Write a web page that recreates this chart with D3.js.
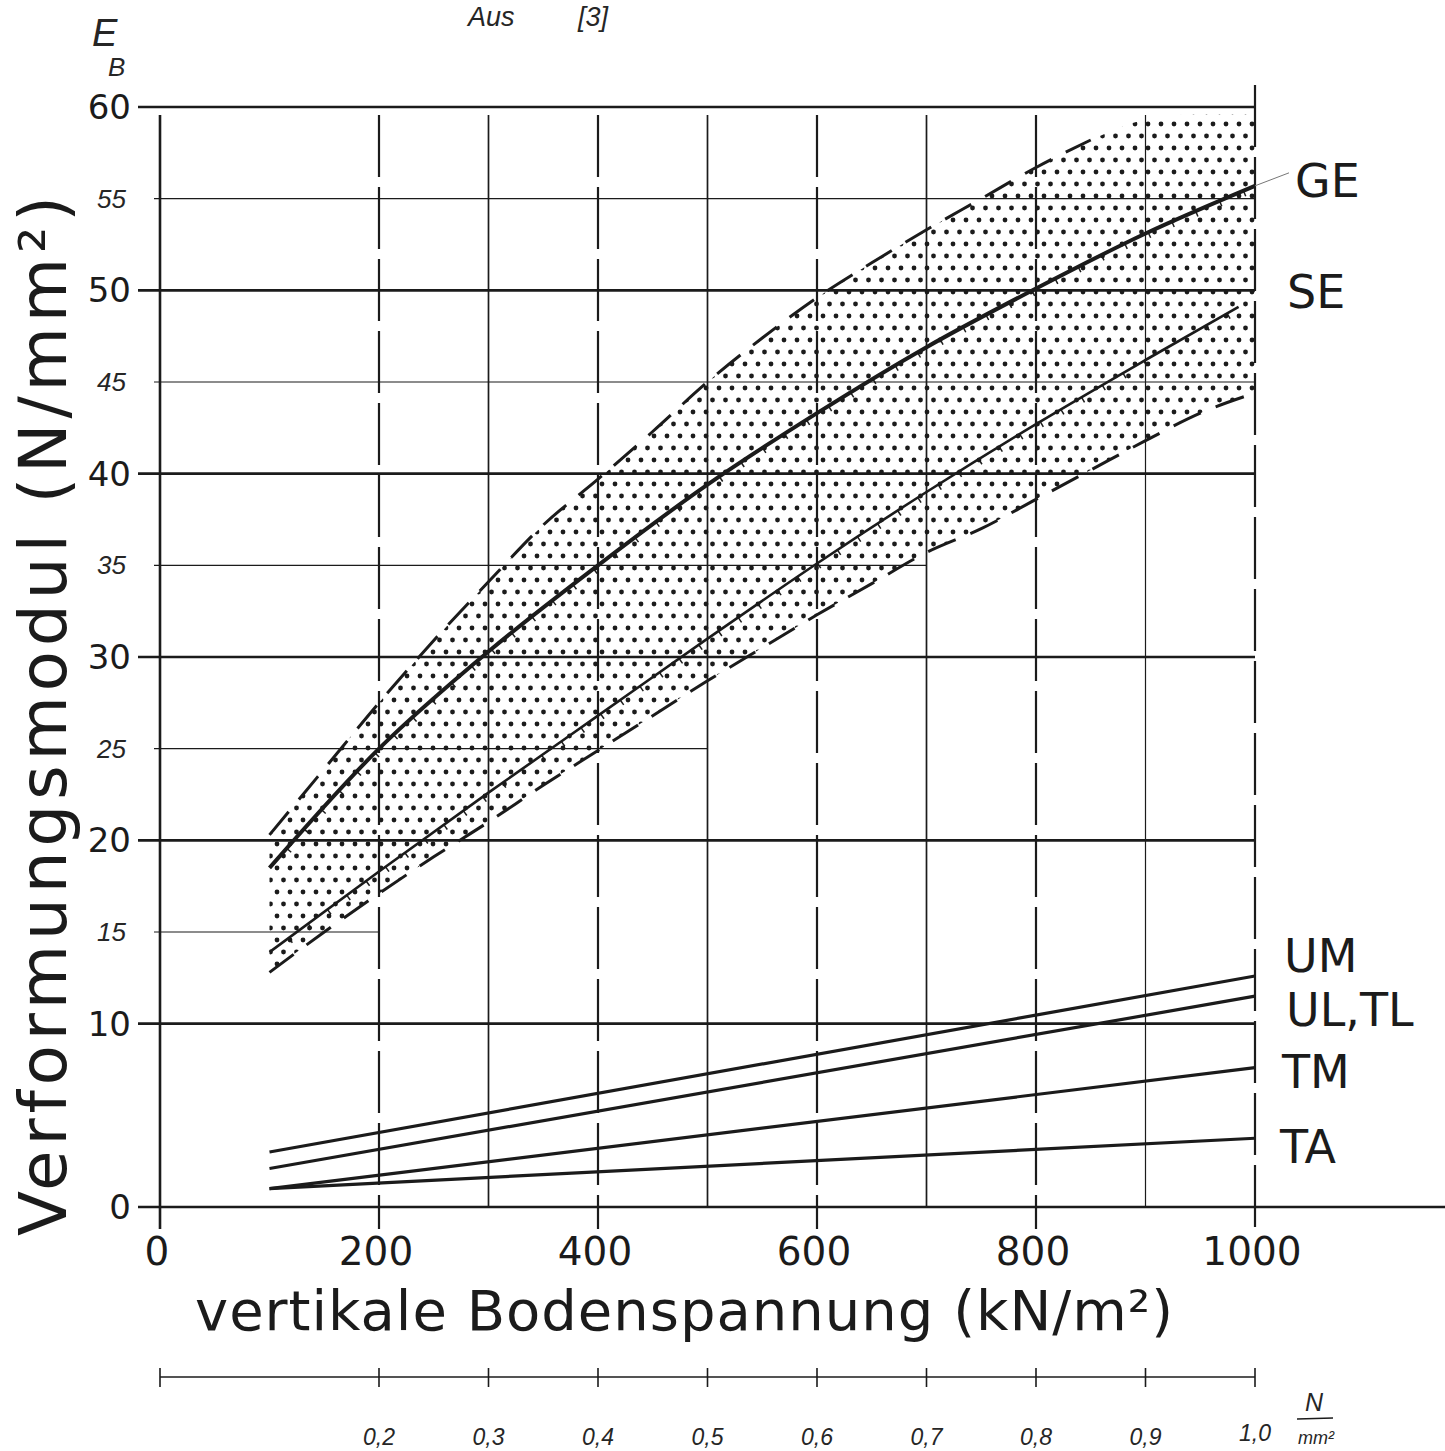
<!DOCTYPE html>
<html lang="de">
<head>
<meta charset="UTF-8">
<title>Verformungsmodul</title>
<script src="https://d3js.org/d3.v7.min.js"></script>
<style>
  body { margin: 0; background: #fff; }
  svg { display: block; background: #fff; }
  .lbl { font-family: "DejaVu Sans", sans-serif; fill: #1b1b1b; }
  .hand { font-family: "Liberation Sans", sans-serif; font-style: italic; fill: #262626; }
</style>
</head>
<body>
<svg width="1445" height="1451"></svg>
<script>
// --- data ---
const xTickVals = [0, 200, 400, 600, 800, 1000];
const xGridOdd = [300, 500, 700, 900];
const xGridEven = [200, 400, 600, 800, 1000];
const yMajor = [0, 10, 20, 30, 40, 50, 60];
const yMinor = [15, 25, 35, 45, 55];
const yMinorEnd = [200, 500, 700, 1000, 1000];   // how far each minor line runs (kN/m2)
const mpaTicks = [0, 200, 300, 400, 500, 600, 700, 800, 900, 1000];
const mpaLabels = ["", "0,2", "0,3", "0,4", "0,5", "0,6", "0,7", "0,8", "0,9", "1,0"];

const geX = [100, 200, 300, 400, 500, 600, 700, 800, 900, 1000];
const geY = [18.5, 25.0, 30.3, 35.0, 39.4, 43.3, 46.9, 50.1, 53.1, 55.7];
const seX = [100, 200, 300, 400, 500, 600, 700, 800, 900, 985];
const seY = [13.9, 18.3, 22.6, 26.8, 31.0, 35.1, 39.0, 42.7, 46.2, 49.1];

const bandX     = [100, 150, 200, 250, 300, 350, 400, 450, 500, 550, 600, 650, 700, 750, 800, 850, 900, 950, 1000];
const bandUpper = [20.3, 23.9, 27.5, 30.9, 34.1, 37.2, 39.7, 42.3, 45.0, 47.4, 49.6, 51.5, 53.3, 55.0, 56.7, 58.2, 59.3, 59.6, 59.6];
const bandLower = [12.8, 15.0, 17.1, 19.1, 21.0, 23.0, 24.9, 26.8, 28.7, 30.5, 32.3, 34.0, 35.7, 37.0, 38.6, 40.2, 41.8, 43.3, 44.4];

const soilX = [100, 1000];
const soils = [
  { name: "UM",    y: [3.0, 12.6] },
  { name: "UL,TL", y: [2.1, 11.5] },
  { name: "TM",    y: [1.0, 7.6] },
  { name: "TA",    y: [1.0, 3.75] }
];

// --- setup ---
const width = 1445, height = 1451;
const svg = d3.select("svg");
const ink = "#1b1b1b";

const x = d3.scaleLinear().domain([0, 1000]).range([160, 1255]);
const y = d3.scaleLinear().domain([0, 60]).range([1207, 107]);

// dot pattern for the scatter band
const defs = svg.append("defs");
const pat = defs.append("pattern")
    .attr("id", "dots")
    .attr("patternUnits", "userSpaceOnUse")
    .attr("width", 26).attr("height", 24);
[[4, 4], [17, 4], [10.5, 16], [23.5, 16]].forEach(p => {
  pat.append("circle").attr("cx", p[0]).attr("cy", p[1]).attr("r", 2.4).attr("fill", ink);
});

// band
const band = bandX.map((v, i) => ({ x: v, lo: bandLower[i], hi: bandUpper[i] }));
svg.append("path")
   .datum(band)
   .attr("fill", "url(#dots)")
   .attr("d", d3.area().x(d => x(d.x)).y0(d => y(d.lo)).y1(d => y(d.hi)).curve(d3.curveMonotoneX));

// horizontal grid
svg.selectAll(".hmaj")
   .data(yMajor)
   .enter().append("line")
   .attr("x1", 138)
   .attr("x2", d => d === 0 ? width : x(1000))
   .attr("y1", d => y(d)).attr("y2", d => y(d))
   .attr("stroke", ink).attr("stroke-width", 2.6);

svg.selectAll(".hmin")
   .data(yMinor)
   .enter().append("line")
   .attr("x1", 154)
   .attr("x2", (d, i) => x(yMinorEnd[i]))
   .attr("y1", d => y(d)).attr("y2", d => y(d))
   .attr("stroke", ink).attr("stroke-width", 1.2);

// vertical grid
svg.append("line")
   .attr("x1", x(0)).attr("x2", x(0))
   .attr("y1", 115).attr("y2", y(0) + 22)
   .attr("stroke", ink).attr("stroke-width", 2.6);

svg.selectAll(".vodd")
   .data(xGridOdd)
   .enter().append("line")
   .attr("x1", d => x(d)).attr("x2", d => x(d))
   .attr("y1", 115).attr("y2", y(0))
   .attr("stroke", ink).attr("stroke-width", d => d === 900 ? 1.2 : 1.7);

svg.selectAll(".veven")
   .data(xGridEven)
   .enter().append("line")
   .attr("x1", d => x(d)).attr("x2", d => x(d))
   .attr("y1", d => d === 1000 ? 85 : 115).attr("y2", y(0) + 22)
   .attr("stroke", ink).attr("stroke-width", 2.2)
   .attr("stroke-dasharray", "62,10");

// band boundaries (dashed)
const bandLine = key => d3.line().x(d => x(d.x)).y(d => y(d[key])).curve(d3.curveMonotoneX);
["hi", "lo"].forEach(k => {
  svg.append("path")
     .datum(k === "hi" ? band.filter(d => d.x <= 880) : band)
     .attr("fill", "none")
     .attr("stroke", ink).attr("stroke-width", 3)
     .attr("stroke-dasharray", "30,16")
     .attr("d", bandLine(k));
});

// GE and SE curves with small barbs
function curveWithBarbs(xs, ys, sw, step) {
  const pts = xs.map((v, i) => [x(v), y(ys[i])]);
  const path = svg.append("path")
     .datum(pts)
     .attr("fill", "none")
     .attr("stroke", ink).attr("stroke-width", sw)
     .attr("d", d3.line().curve(d3.curveMonotoneX));
  const node = path.node();
  const L = node.getTotalLength();
  for (let s = step; s < L - 4; s += step) {
    const p = node.getPointAtLength(s);
    const q = node.getPointAtLength(s + 1);
    let tx = q.x - p.x, ty = q.y - p.y;
    const n = Math.hypot(tx, ty); tx /= n; ty /= n;
    svg.append("line")
       .attr("x1", p.x).attr("y1", p.y)
       .attr("x2", p.x - ty * 6).attr("y2", p.y + tx * 6)
       .attr("stroke", ink).attr("stroke-width", 1.5);
  }
}
curveWithBarbs(geX, geY, 4, 26);
curveWithBarbs(seX, seY, 2.6, 24);

// leader line to GE label
svg.append("line")
   .attr("x1", x(1000)).attr("y1", y(geY[geY.length - 1]))
   .attr("x2", x(1000) + 34).attr("y2", y(geY[geY.length - 1]) - 13)
   .attr("stroke", "#777").attr("stroke-width", 1);

// soil lines
svg.selectAll(".soil")
   .data(soils)
   .enter().append("path")
   .attr("fill", "none")
   .attr("stroke", ink).attr("stroke-width", 3.2)
   .attr("d", d => d3.line()(soilX.map((v, i) => [x(v), y(d.y[i])])));

// curve labels
const curveLabels = [
  { t: "GE", x: 1295, y: 197 },
  { t: "SE", x: 1287, y: 308 },
  { t: "UM", x: 1284, y: 972 },
  { t: "UL,TL", x: 1286, y: 1026 },
  { t: "TM", x: 1282, y: 1088 },
  { t: "TA", x: 1280, y: 1163 }
];
svg.selectAll(".clbl")
   .data(curveLabels)
   .enter().append("text")
   .attr("class", "lbl")
   .attr("x", d => d.x).attr("y", d => d.y)
   .style("font-size", "46px")
   .text(d => d.t);

// y tick labels
svg.selectAll(".ymaj")
   .data(yMajor)
   .enter().append("text")
   .attr("class", "lbl")
   .attr("x", 131).attr("y", d => y(d) + 12)
   .attr("text-anchor", "end")
   .style("font-size", "34px")
   .text(d => d);

svg.selectAll(".ymin")
   .data(yMinor)
   .enter().append("text")
   .attr("class", "hand")
   .attr("x", 126).attr("y", d => y(d) + 9)
   .attr("text-anchor", "end")
   .style("font-size", "26px")
   .text(d => d);

// x tick labels
svg.selectAll(".xlbl")
   .data(xTickVals)
   .enter().append("text")
   .attr("class", "lbl")
   .attr("x", d => x(d) - 3).attr("y", 1265)
   .attr("text-anchor", "middle")
   .style("font-size", "39px")
   .text(d => d);

// axis titles
svg.append("text")
   .attr("class", "lbl")
   .attr("transform", "translate(66,716) rotate(-90)")
   .attr("text-anchor", "middle")
   .attr("textLength", 1040).attr("lengthAdjust", "spacing")
   .style("font-size", "66px")
   .text("Verformungsmodul (N/mm²)");

svg.append("text")
   .attr("class", "lbl")
   .attr("x", 684).attr("y", 1330)
   .attr("text-anchor", "middle")
   .attr("textLength", 978).attr("lengthAdjust", "spacing")
   .style("font-size", "56px")
   .text("vertikale Bodenspannung (kN/m²)");

// secondary axis in N/mm2
const axis2 = svg.append("g");
axis2.append("line")
     .attr("x1", x(0)).attr("x2", x(1000))
     .attr("y1", 1377).attr("y2", 1377)
     .attr("stroke", ink).attr("stroke-width", 1.6);
axis2.selectAll(".t2")
     .data(mpaTicks)
     .enter().append("line")
     .attr("x1", d => x(d)).attr("x2", d => x(d))
     .attr("y1", 1368).attr("y2", 1387)
     .attr("stroke", ink).attr("stroke-width", 1.6);
axis2.selectAll(".l2")
     .data(mpaTicks)
     .enter().append("text")
     .attr("class", "hand")
     .attr("x", d => x(d)).attr("y", (d, i) => i === 9 ? 1441 : 1445)
     .attr("text-anchor", "middle")
     .style("font-size", "23px")
     .text((d, i) => mpaLabels[i]);

// unit fraction N / mm2
svg.append("text").attr("class", "hand")
   .attr("x", 1314).attr("y", 1411).attr("text-anchor", "middle")
   .style("font-size", "25px").text("N");
svg.append("line")
   .attr("x1", 1297).attr("x2", 1333).attr("y1", 1419).attr("y2", 1418)
   .attr("stroke", ink).attr("stroke-width", 1.6);
svg.append("text").attr("class", "hand")
   .attr("x", 1316).attr("y", 1444).attr("text-anchor", "middle")
   .style("font-size", "18px").text("mm²");

// handwritten notes
svg.append("text").attr("class", "hand")
   .attr("x", 92).attr("y", 46)
   .style("font-size", "38px").text("E");
svg.append("text").attr("class", "hand")
   .attr("x", 108).attr("y", 76)
   .style("font-size", "26px").text("B");
svg.append("text").attr("class", "hand")
   .attr("x", 468).attr("y", 26)
   .style("font-size", "27px").text("Aus");
svg.append("text").attr("class", "hand")
   .attr("x", 578).attr("y", 26)
   .style("font-size", "27px").text("[3]");
</script>
</body>
</html>
